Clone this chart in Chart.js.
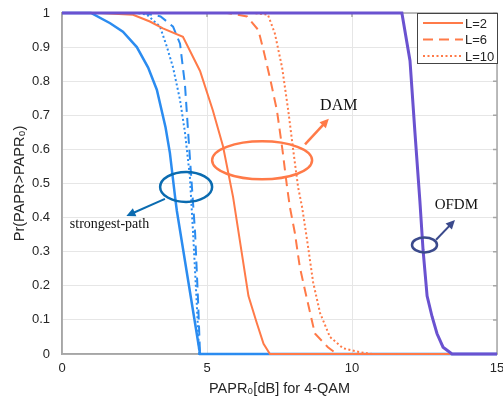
<!DOCTYPE html>
<html>
<head>
<meta charset="utf-8">
<script src="https://cdn.jsdelivr.net/npm/chart.js@4.4.1/dist/chart.umd.min.js"></script>
<style>
  body { margin: 0; background: #fff; }
  #wrap { width: 503px; height: 398px; }
</style>
</head>
<body>
<div id="wrap"><canvas id="js--chart"></canvas></div>
<script>
// values
const xTicks = [0, 5, 10, 15];

const spL2X = [0, 1.0, 1.66, 2.1, 2.58, 2.97, 3.27, 3.57, 3.72, 3.9, 3.96, 4.76, 15];
const spL2Y = [1, 1, 0.97, 0.945, 0.9, 0.84, 0.775, 0.665, 0.59, 0.46, 0.42, 0, 0];
const spL6X = [0, 2.8, 3.4, 3.83, 4.07, 4.24, 4.35, 4.48, 4.59, 4.69, 4.76, 15];
const spL6Y = [1, 1, 0.99, 0.96, 0.91, 0.79, 0.65, 0.49, 0.355, 0.16, 0, 0];
const spL10X = [0, 2.6, 2.93, 3.38, 3.62, 3.83, 4.07, 4.24, 4.41, 4.52, 4.64, 4.73, 15];
const spL10Y = [1, 1, 0.995, 0.96, 0.9, 0.84, 0.745, 0.65, 0.52, 0.355, 0.16, 0, 0];

const damL2X = [0, 1.3, 2.45, 3.03, 3.48, 4.17, 4.76, 5.2, 5.55, 5.9, 6.43, 6.72, 6.95, 7.17, 15];
const damL2Y = [1, 1, 0.995, 0.975, 0.955, 0.93, 0.83, 0.715, 0.61, 0.46, 0.17, 0.09, 0.03, 0, 0];
const damL6X = [0, 5.7, 6.38, 6.77, 6.95, 7.17, 7.41, 7.6, 7.76, 7.86, 8.03, 8.2, 8.45, 8.72, 9.17, 9.48, 15];
const damL6Y = [1, 1, 0.99, 0.95, 0.89, 0.81, 0.715, 0.6, 0.49, 0.43, 0.355, 0.255, 0.16, 0.06, 0.02, 0, 0];
const damL10X = [0, 6.6, 7.1, 7.34, 7.59, 7.8, 7.97, 8.14, 8.28, 8.45, 8.66, 8.9, 9.24, 9.69, 10.28, 10.7, 15];
const damL10Y = [1, 1, 0.995, 0.94, 0.84, 0.715, 0.6, 0.49, 0.43, 0.335, 0.21, 0.12, 0.05, 0.017, 0.005, 0, 0];

const ofdmX = [0, 11.72, 12.0, 12.17, 12.34, 12.45, 12.59, 12.76, 12.93, 13.14, 13.45, 15];
const ofdmY = [1, 1, 0.86, 0.65, 0.45, 0.305, 0.17, 0.11, 0.06, 0.02, 0, 0];

const legendLabels = ["L=2", "L=6", "L=10"];

const blue = "#2b8cf0";
const orange = "#ff7a48";
const purple = "#6a52d0";

function pts(xs, ys) {
  return xs.map(function (x, i) { return { x: x, y: ys[i] }; });
}

function line(xs, ys, color, dash, width) {
  return {
    data: pts(xs, ys),
    borderColor: color,
    borderWidth: width || 2,
    borderDash: dash,
    pointRadius: 0,
    fill: false,
    tension: 0,
    clip: 4
  };
}

const data = {
  datasets: [
    line(ofdmX, ofdmY, purple, [], 3),
    line(damL10X, damL10Y, orange, [2, 2.5]),
    line(damL6X, damL6Y, orange, [10, 6]),
    line(damL2X, damL2Y, orange, []),
    line(spL10X, spL10Y, blue, [2, 2.5]),
    line(spL6X, spL6Y, blue, [10, 6]),
    line(spL2X, spL2Y, blue, [], 2.5)
  ]
};

// ellipses, arrows and notes, placed in data units
const notes = {
  id: "notes",
  beforeDatasetsDraw: function (chart) {
    // box and inward ticks on the right and top
    const ctx = chart.ctx;
    const a = chart.chartArea;
    const ys = chart.scales.y, xs = chart.scales.x;
    ctx.save();
    ctx.strokeStyle = "#a6a6a6";
    ctx.lineWidth = 1.5;
    ctx.strokeRect(a.left, a.top, a.right - a.left, a.bottom - a.top);
    ctx.beginPath();
    for (let v = 0; v <= 1.0001; v += 0.1) {
      ctx.moveTo(a.right, ys.getPixelForValue(v));
      ctx.lineTo(a.right - 4, ys.getPixelForValue(v));
    }
    xTicks.forEach(function (v) {
      ctx.moveTo(xs.getPixelForValue(v), a.top);
      ctx.lineTo(xs.getPixelForValue(v), a.top + 4);
    });
    ctx.stroke();
    ctx.restore();
  },
  afterDatasetsDraw: function (chart) {
    const ctx = chart.ctx;
    const xs = chart.scales.x, ys = chart.scales.y;

    function px(v) { return xs.getPixelForValue(v); }
    function py(v) { return ys.getPixelForValue(v); }

    function ellipse(cx, cy, rx, ry, color, w) {
      ctx.save();
      ctx.strokeStyle = color;
      ctx.lineWidth = w;
      ctx.beginPath();
      ctx.ellipse(px(cx), py(cy), rx, ry, 0, 0, Math.PI * 2);
      ctx.stroke();
      ctx.restore();
    }

    function arrow(x1, y1, x2, y2, color, w) {
      const X1 = px(x1), Y1 = py(y1), X2 = px(x2), Y2 = py(y2);
      const ang = Math.atan2(Y2 - Y1, X2 - X1);
      ctx.save();
      ctx.strokeStyle = color;
      ctx.fillStyle = color;
      ctx.lineWidth = w;
      ctx.beginPath();
      ctx.moveTo(X1, Y1);
      ctx.lineTo(X2 - 6 * Math.cos(ang), Y2 - 6 * Math.sin(ang));
      ctx.stroke();
      ctx.beginPath();
      ctx.moveTo(X2, Y2);
      ctx.lineTo(X2 - 10 * Math.cos(ang - 0.45), Y2 - 10 * Math.sin(ang - 0.45));
      ctx.lineTo(X2 - 10 * Math.cos(ang + 0.45), Y2 - 10 * Math.sin(ang + 0.45));
      ctx.closePath();
      ctx.fill();
      ctx.restore();
    }

    function note(text, x, y, size) {
      ctx.save();
      ctx.fillStyle = "#111";
      ctx.font = size + "px 'Liberation Serif', 'Times New Roman', serif";
      ctx.textBaseline = "middle";
      ctx.fillText(text, px(x), py(y));
      ctx.restore();
    }

    ellipse(4.28, 0.49, 26, 15, "#0a6bb0", 2.5);
    arrow(3.55, 0.455, 2.22, 0.405, "#0a6bb0", 2);
    note("strongest-path", 0.27, 0.38, 14);

    ellipse(6.9, 0.568, 50, 19, orange, 2.5);
    arrow(8.38, 0.615, 9.2, 0.69, orange, 2.5);
    note("DAM", 8.9, 0.727, 16);

    ellipse(12.5, 0.32, 12.5, 7.5, "#3b4a8c", 2.5);
    arrow(12.9, 0.335, 13.55, 0.393, "#3b4a8c", 2);
    note("OFDM", 12.85, 0.437, 15);

    // legend
    const lx = 417, ly = 13, lw = 80, lh = 50;
    ctx.save();
    ctx.fillStyle = "#fff";
    ctx.fillRect(lx, ly, lw, lh);
    ctx.strokeStyle = "#444";
    ctx.lineWidth = 1;
    ctx.strokeRect(lx + 0.5, ly + 0.5, lw, lh);
    const dashes = [[], [10, 6], [2, 2.5]];
    legendLabels.forEach(function (t, i) {
      const yy = ly + 10 + i * 16.5;
      ctx.strokeStyle = orange;
      ctx.lineWidth = 2;
      ctx.setLineDash(dashes[i]);
      ctx.beginPath();
      ctx.moveTo(lx + 6, yy);
      ctx.lineTo(lx + 46, yy);
      ctx.stroke();
      ctx.setLineDash([]);
      ctx.fillStyle = "#222";
      ctx.font = "13px 'Liberation Sans', Arial, sans-serif";
      ctx.textBaseline = "middle";
      ctx.fillText(t, lx + 48, yy + 1);
    });
    ctx.restore();
  }
};

const tickFont = { family: "'Liberation Sans', Arial, sans-serif", size: 13 };
const titleFont = { family: "'Liberation Sans', Arial, sans-serif", size: 14.5 };

const config = {
  type: "line",
  data: data,
  options: {
    responsive: true,
    maintainAspectRatio: false,
    animation: false,
    layout: { padding: { left: 0, right: 6, top: 13, bottom: 0 } },
    plugins: { legend: { display: false }, tooltip: { enabled: false } },
    scales: {
      x: {
        type: "linear",
        min: 0,
        max: 15,
        afterBuildTicks: function (s) { s.ticks = xTicks.map(function (v) { return { value: v }; }); },
        afterFit: function (s) {
          s.height = 44;
          s.paddingLeft = 0;
          s.paddingRight = 0;
        },
        grid: { color: "#e6e6e6", drawTicks: false },
        border: { color: "#a6a6a6", width: 1.5 },
        ticks: { font: tickFont, color: "#262626", padding: 7, maxRotation: 0 },
        title: {
          display: true,
          text: "PAPR\u2080[dB] for 4-QAM",
          font: titleFont,
          color: "#262626",
          padding: { top: 2, bottom: 0 }
        }
      },
      y: {
        min: 0,
        max: 1,
        afterFit: function (s) {
          s.width = 62;
          s.paddingTop = 0;
          s.paddingBottom = 0;
        },
        grid: { color: "#e6e6e6", drawTicks: false },
        border: { color: "#a6a6a6", width: 1.5 },
        ticks: {
          font: tickFont,
          color: "#262626",
          padding: 12,
          stepSize: 0.1,
          callback: function (v) { return Math.round(v * 10) / 10; }
        },
        title: {
          display: true,
          text: "Pr(PAPR>PAPR\u2080)",
          font: titleFont,
          color: "#262626",
          padding: { top: 11, bottom: 0 }
        }
      }
    }
  },
  plugins: [notes]
};

new Chart(document.getElementById("js--chart"), config);
</script>
</body>
</html>
